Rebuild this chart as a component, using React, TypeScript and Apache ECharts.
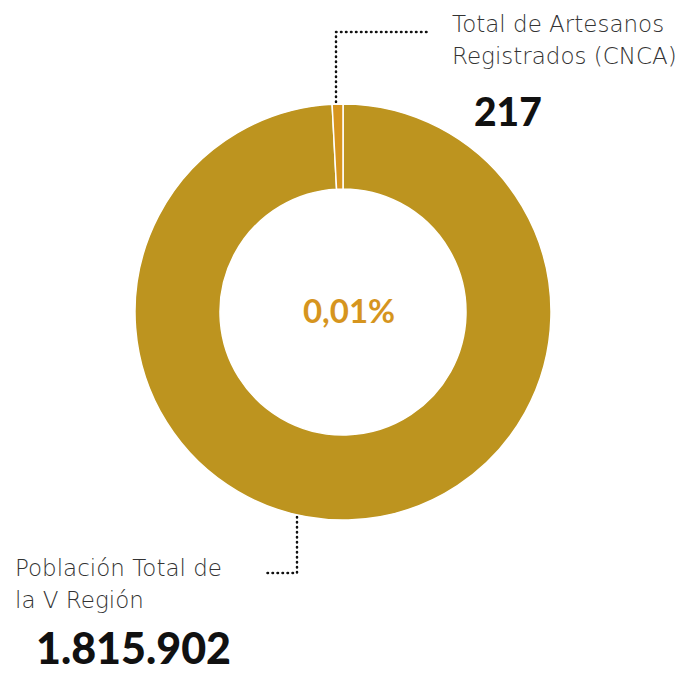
import React, { useEffect, useRef } from "react";
import * as echarts from "echarts";

const categories = ["Población Total de la V Región", "Total de Artesanos Registrados (CNCA)"];
const values = [1815902, 217];
const sliceColors = ["#bd941f", "#d6951e"];
const labelLines = [
  ["Población Total de", "la V Región"],
  ["Total de Artesanos", "Registrados (CNCA)"],
];

const fmt = (n: number) => String(n).replace(/\B(?=(\d{3})+(?!\d))/g, ".");

export default function App() {
  const ref = useRef<HTMLDivElement>(null);
  useEffect(() => {
    if (!ref.current) return;
    const chart = echarts.init(ref.current, undefined, { renderer: "svg" });
    const pct = ((values[1] / values[0]) * 100).toFixed(2).replace(".", ",") + "%";
    const light = "'DejaVu Sans'";
    const bold = "Lato";
    const dotted = {
      stroke: "#111",
      lineWidth: 2.5,
      lineDash: [0.5, 4.5],
      lineCap: "round",
      fill: null,
    };
    chart.setOption({
      animation: false,
      backgroundColor: "#ffffff",
      series: [
        {
          type: "pie",
          center: [343, 312],
          radius: [123, 208],
          startAngle: 90,
          clockwise: true,
          minAngle: 3,
          label: { show: false },
          labelLine: { show: false },
          silent: true,
          itemStyle: { borderColor: "#ffffff", borderWidth: 1.5 },
          data: categories.map((c, i) => ({
            name: c,
            value: values[i],
            itemStyle: { color: sliceColors[i] },
          })),
        },
      ],
      graphic: [
        {
          type: "text",
          style: {
            text: pct,
            x: 349,
            y: 310,
            align: "center",
            verticalAlign: "middle",
            fill: "#d6951e",
            font: `bold 33px ${bold}`,
          },
        },
        {
          type: "polyline",
          shape: { points: [[336, 102], [336, 32], [428, 32]] },
          style: dotted,
        },
        {
          type: "polyline",
          shape: { points: [[297, 517], [297, 573], [263, 573]] },
          style: dotted,
        },
        {
          type: "text",
          style: {
            text: labelLines[1].join("\n"),
            x: 452,
            y: 8,
            fill: "#333333",
            font: `200 23px ${light}`,
            lineHeight: 32,
          },
        },
        {
          type: "text",
          style: {
            text: fmt(values[1]),
            x: 474,
            y: 111,
            verticalAlign: "middle",
            fill: "#111111",
            font: `900 39px ${bold}`,
          },
        },
        {
          type: "text",
          style: {
            text: labelLines[0].join("\n"),
            x: 15,
            y: 552,
            fill: "#333333",
            font: `200 23px ${light}`,
            lineHeight: 32,
          },
        },
        {
          type: "text",
          style: {
            text: fmt(values[0]),
            x: 36,
            y: 647,
            verticalAlign: "middle",
            fill: "#111111",
            font: `900 43px ${bold}`,
          },
        },
      ],
    });
    return () => chart.dispose();
  }, []);
  return (
    <div
      ref={ref}
      style={{ position: "fixed", left: 0, top: 0, width: 696, height: 673 }}
    />
  );
}
